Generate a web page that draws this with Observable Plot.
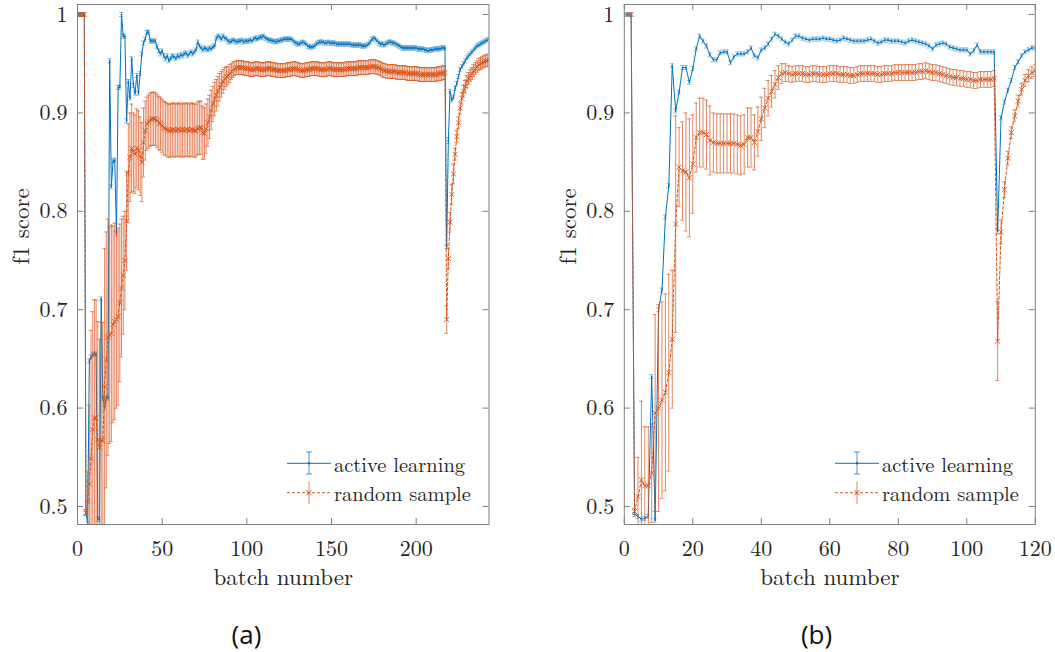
<!DOCTYPE html>
<html><head><meta charset="utf-8">
<script src="https://cdn.jsdelivr.net/npm/d3@7"></script>
<script src="https://cdn.jsdelivr.net/npm/@observablehq/plot@0.6"></script>
<style>
body{margin:0;background:#fff;}
#wrap{position:relative;width:1055px;height:652px;overflow:hidden;background:#fff;}
.panel{position:absolute;top:0;}
.cap{position:absolute;font-family:Open Sans;font-size:26px;color:#111;transform:translate(-50%,-50%);white-space:nowrap;}
.leg{position:absolute;}
</style></head><body><div id="wrap"></div>
<script>
// ---------- tick labels / names ----------
const yTicks = [0.5, 0.6, 0.7, 0.8, 0.9, 1];
const xTicksA = [0, 50, 100, 150, 200];
const xTicksB = [0, 20, 40, 60, 80, 100, 120];
const seriesNames = ["active learning", "random sample"];
const xLabel = "batch number", yLabel = "f1 score";
const panelNames = ["(a)", "(b)"];

// ---------- panel (a): 243 batches ----------
const aActive = [
1,1,1,1,.493,.483,.648,.652,.654,.655,
.655,.487,.487,.711,.610,.600,.611,.610,.953,.825,
.851,.852,.777,.926,.926,1,.978,.978,.892,.932,
.915,.955,.928,.920,.938,.920,.940,.960,.971,.975,
.982,.982,.973,.973,.973,.973,.967,.963,.960,.963,
.958,.955,.958,.953,.955,.958,.957,.955,.958,.957,
.959,.958,.960,.961,.958,.960,.962,.960,.962,.964,
.972,.968,.966,.964,.966,.965,.964,.966,.965,.967,
.968,.976,.978,.977,.975,.978,.976,.975,.973,.972,
.973,.974,.973,.972,.973,.973,.974,.972,.973,.973,
.973,.974,.973,.975,.976,.975,.976,.977,.977,.978,
.976,.975,.974,.974,.973,.973,.972,.973,.973,.974,
.974,.975,.975,.975,.975,.975,.974,.972,.971,.970,
.970,.971,.972,.971,.970,.968,.967,.967,.967,.968,
.970,.971,.972,.972,.972,.971,.971,.972,.971,.971,
.971,.971,.970,.970,.970,.970,.970,.970,.970,.970,
.970,.969,.969,.969,.969,.969,.969,.968,.968,.968,
.969,.970,.972,.975,.976,.975,.973,.971,.970,.970,
.969,.970,.971,.972,.972,.971,.971,.970,.969,.968,
.967,.966,.966,.966,.966,.966,.966,.966,.966,.966,
.965,.965,.965,.965,.964,.964,.963,.964,.964,.964,
.965,.965,.965,.965,.966,.966,.966,
.764,.872,.922,.913,.916,.925,.930,.937,.944,.947,
.950,.953,.956,.958,.960,.962,.964,.966,.968,.969,
.970,.971,.972,.973,.974,.975];
const aActiveErr = [
.002,.002,.002,.002,.002,.002,.002,.002,.002,.002,
.002,.002,.002,.002,.002,.002,.002,.002,.002,.002,
.002,.002,.002,.002,.002,.002,.002,.002,.002,.002,
.002,.002,.002,.002,.002,.002,.002,.002,.002,.002,
.002,.002,.002,.002,.002,.002,.002,.002,.002,.002,
.002,.002,.002,.002,.002,.002,.002,.002,.002,.002,
.002,.002,.002,.002,.002,.002,.002,.002,.002,.002,
.002,.002,.002,.002,.002,.002,.002,.002,.002,.002,
.002,.002,.002,.002,.002,.002,.002,.002,.002,.002,
.002,.002,.002,.002,.002,.002,.002,.002,.002,.002,
.002,.002,.002,.002,.002,.002,.002,.002,.002,.002,
.002,.002,.002,.002,.002,.002,.002,.002,.002,.002,
.002,.002,.002,.002,.002,.002,.002,.002,.002,.002,
.002,.002,.002,.002,.002,.002,.002,.002,.002,.002,
.002,.002,.002,.002,.002,.002,.002,.002,.002,.002,
.002,.002,.002,.002,.002,.002,.002,.002,.002,.002,
.002,.002,.002,.002,.002,.002,.002,.002,.002,.002,
.002,.002,.002,.002,.002,.002,.002,.002,.002,.002,
.002,.002,.002,.002,.002,.002,.002,.002,.002,.002,
.002,.002,.002,.002,.002,.002,.002,.002,.002,.002,
.002,.002,.002,.002,.002,.002,.002,.002,.002,.002,
.002,.002,.002,.002,.002,.002,.002,
.002,.003,.002,.002,.002,.002,.002,.002,.002,.002,
.002,.002,.002,.002,.002,.002,.002,.002,.002,.002,
.002,.002,.002,.002,.002,.002];
const aRandom = [
1,1,1,1,.494,.505,.523,.549,.578,.590,
.590,.568,.560,.567,.567,.622,.649,.672,.674,.676,
.685,.688,.690,.693,.707,.722,.735,.750,.790,.839,
.855,.864,.860,.858,.864,.862,.856,.850,.870,.882,
.889,.891,.893,.894,.894,.894,.892,.890,.889,.887,
.885,.884,.883,.882,.882,.883,.883,.882,.883,.883,
.882,.883,.882,.883,.883,.882,.883,.883,.882,.882,
.884,.885,.885,.880,.879,.884,.890,.896,.903,.909,
.914,.918,.922,.926,.929,.932,.935,.937,.938,.940,
.942,.944,.945,.946,.946,.946,.946,.946,.945,.945,
.945,.944,.944,.944,.945,.945,.945,.944,.944,.944,
.944,.945,.945,.945,.944,.944,.944,.943,.943,.943,
.943,.943,.943,.944,.944,.944,.945,.945,.945,.944,
.944,.943,.943,.943,.944,.944,.944,.945,.945,.945,
.945,.945,.944,.944,.944,.944,.944,.945,.945,.945,
.944,.944,.944,.944,.944,.944,.944,.944,.945,.945,
.945,.945,.945,.945,.945,.946,.946,.946,.946,.946,
.946,.946,.947,.947,.947,.947,.946,.946,.945,.944,
.943,.943,.942,.942,.942,.942,.942,.942,.941,.941,
.941,.941,.941,.941,.940,.940,.940,.940,.940,.940,
.940,.939,.939,.939,.939,.939,.939,.939,.939,.939,
.939,.939,.940,.940,.940,.941,.941,
.690,.752,.789,.817,.838,.858,.876,.890,.905,.915,
.922,.927,.932,.935,.938,.940,.943,.945,.947,.949,
.950,.951,.952,.953,.953,.954];
const aRandomErr = [
.001,.001,.001,.001,.003,.03,.08,.13,.12,.12,
.12,.12,.11,.12,.12,.14,.13,.12,.11,.11,
.10,.10,.09,.09,.08,.07,.06,.05,.05,.05,
.045,.045,.04,.04,.04,.04,.04,.04,.035,.03,
.027,.027,.027,.027,.027,.027,.027,.027,.027,.027,
.027,.027,.027,.027,.027,.027,.027,.027,.027,.027,
.027,.027,.027,.027,.027,.027,.027,.027,.027,.027,
.027,.027,.027,.027,.026,.025,.024,.022,.02,.018,
.017,.016,.015,.014,.013,.012,.011,.01,.009,.009,
.008,.008,.007,.007,.007,.007,.007,.007,.007,.007,
.007,.007,.007,.007,.007,.007,.007,.007,.007,.007,
.007,.007,.007,.007,.007,.007,.007,.007,.007,.007,
.007,.007,.007,.007,.007,.007,.007,.007,.007,.007,
.007,.007,.007,.007,.007,.007,.007,.007,.007,.007,
.007,.007,.007,.007,.007,.007,.007,.007,.007,.007,
.007,.007,.007,.007,.007,.007,.007,.007,.007,.007,
.007,.007,.007,.007,.007,.007,.007,.007,.007,.007,
.007,.007,.007,.007,.007,.007,.007,.007,.007,.007,
.007,.007,.007,.007,.007,.007,.007,.007,.007,.007,
.007,.007,.007,.007,.007,.007,.007,.007,.007,.007,
.007,.007,.007,.007,.007,.007,.007,.007,.007,.007,
.007,.007,.007,.007,.007,.007,.007,
.014,.01,.01,.01,.01,.006,.006,.006,.006,.006,
.006,.006,.006,.006,.006,.006,.006,.006,.006,.006,
.006,.006,.006,.006,.006,.006];

// ---------- panel (b): 120 batches ----------
const bActive = [
1,1,.492,.490,.487,.488,.490,.632,.486,.700,
.720,.794,.826,.948,.902,.921,.946,.946,.931,.945,
.965,.978,.973,.968,.959,.954,.954,.961,.962,.962,
.951,.957,.960,.960,.960,.962,.966,.958,.956,.964,
.966,.970,.975,.980,.978,.975,.972,.970,.974,.978,
.978,.976,.975,.974,.975,.975,.975,.976,.975,.975,
.974,.973,.974,.976,.975,.974,.973,.973,.973,.973,
.974,.975,.973,.971,.972,.974,.974,.973,.973,.973,
.972,.971,.973,.974,.973,.972,.971,.970,.968,.965,
.969,.970,.971,.970,.967,.966,.965,.964,.964,.964,
.960,.963,.969,.962,.962,.962,.962,.962,.780,.895,
.911,.923,.933,.946,.952,.958,.962,.964,.966,.966];
const bActiveErr = [
.002,.002,.002,.002,.002,.002,.002,.002,.002,.002,
.002,.002,.002,.002,.002,.002,.002,.002,.002,.002,
.002,.002,.002,.002,.002,.002,.002,.002,.002,.002,
.002,.002,.002,.002,.002,.002,.002,.002,.002,.002,
.002,.002,.002,.002,.002,.002,.002,.002,.002,.002,
.002,.002,.002,.002,.002,.002,.002,.002,.002,.002,
.002,.002,.002,.002,.002,.002,.002,.002,.002,.002,
.002,.002,.002,.002,.002,.002,.002,.002,.002,.002,
.002,.002,.002,.002,.002,.002,.002,.002,.002,.002,
.002,.002,.002,.002,.002,.002,.002,.002,.002,.002,
.002,.002,.002,.002,.002,.002,.002,.002,.003,.002,
.002,.002,.002,.002,.002,.002,.002,.002,.002,.002];
const bRandom = [
1,1,.495,.510,.527,.521,.521,.534,.595,.600,
.608,.616,.636,.670,.787,.845,.841,.840,.834,.848,
.875,.880,.880,.878,.872,.870,.869,.869,.869,.869,
.869,.869,.868,.867,.868,.875,.875,.870,.881,.894,
.905,.915,.922,.929,.936,.940,.941,.940,.939,.940,
.940,.940,.939,.939,.940,.940,.939,.939,.939,.940,
.940,.940,.939,.939,.939,.938,.938,.939,.940,.940,
.940,.940,.940,.939,.939,.940,.940,.940,.941,.941,
.941,.941,.941,.941,.941,.942,.942,.943,.942,.941,
.941,.940,.939,.938,.937,.936,.936,.935,.935,.934,
.934,.933,.933,.934,.934,.934,.934,.935,.668,.779,
.822,.854,.880,.897,.912,.924,.933,.938,.941,.943];
const bRandomErr = [
.001,.001,.003,.04,.08,.06,.06,.05,.10,.105,
.10,.10,.10,.07,.11,.04,.05,.06,.06,.05,
.035,.035,.035,.035,.035,.03,.03,.03,.03,.03,
.03,.03,.03,.03,.03,.03,.03,.028,.025,.022,
.02,.018,.016,.014,.012,.01,.009,.008,.008,.008,
.008,.008,.008,.008,.008,.008,.008,.008,.008,.008,
.008,.008,.008,.008,.008,.008,.008,.008,.008,.008,
.008,.008,.008,.008,.008,.008,.008,.008,.008,.008,
.008,.008,.008,.008,.008,.008,.008,.008,.008,.008,
.008,.008,.008,.008,.008,.008,.008,.008,.008,.008,
.008,.008,.008,.008,.008,.008,.008,.008,.04,.012,
.008,.007,.006,.006,.006,.006,.006,.006,.006,.006];

// ---------- styling ----------
const BLUE = "#0072BD", ORANGE = "#D95319", FRAME = "#7f7f7f", INK = "#262626";
const FONT = "Latin Modern Roman";

function check(name, arr, n) { if (arr.length !== n) throw new Error(name + " length " + arr.length + " != " + n); }
[["aActive",aActive],["aActiveErr",aActiveErr],["aRandom",aRandom],["aRandomErr",aRandomErr]].forEach(([k,a]) => check(k,a,243));
[["bActive",bActive],["bActiveErr",bActiveErr],["bRandom",bRandom],["bRandomErr",bRandomErr]].forEach(([k,a]) => check(k,a,120));

function panel({w, ml, mr, xmax, xticks, am, ae, rm, re}) {
  const H = 600, mt = 4, mb = 76;
  const fw = w - ml - mr, fh = H - mt - mb;
  const rows = d3.range(am.length).map(i => ({x: i + 1, am: am[i], ae: ae[i], rm: rm[i], re: re[i]}));
  const tl = 6;
  return Plot.plot({
    width: w, height: H, marginLeft: ml, marginRight: mr, marginTop: mt, marginBottom: mb,
    style: {fontFamily: FONT, fontSize: "22px", color: INK, background: "transparent", overflow: "visible"},
    x: {domain: [0, xmax]},
    y: {domain: [0.4817, 1.0102]},
    marks: [
      // active learning
      Plot.ruleX(rows, {x: "x", y1: d => d.am - d.ae, y2: d => d.am + d.ae, stroke: BLUE, strokeOpacity: 0.5, clip: true}),
      Plot.ruleY(rows, {y: d => d.am + d.ae, x1: "x", x2: "x", insetLeft: -2, insetRight: -2, stroke: BLUE, strokeOpacity: 0.45, clip: true}),
      Plot.ruleY(rows, {y: d => d.am - d.ae, x1: "x", x2: "x", insetLeft: -2, insetRight: -2, stroke: BLUE, strokeOpacity: 0.45, clip: true}),
      Plot.line(rows, {x: "x", y: "am", stroke: BLUE, strokeWidth: 1, clip: true}),
      Plot.dot(rows, {x: "x", y: "am", r: 0.9, fill: BLUE, stroke: null, clip: true}),
      // random sample
      Plot.ruleX(rows, {x: "x", y1: d => d.rm - d.re, y2: d => d.rm + d.re, stroke: ORANGE, strokeOpacity: 0.7, clip: true}),
      Plot.ruleY(rows, {y: d => d.rm + d.re, x1: "x", x2: "x", insetLeft: -2, insetRight: -2, stroke: ORANGE, strokeOpacity: 0.65, clip: true}),
      Plot.ruleY(rows, {y: d => d.rm - d.re, x1: "x", x2: "x", insetLeft: -2, insetRight: -2, stroke: ORANGE, strokeOpacity: 0.65, clip: true}),
      Plot.line(rows, {x: "x", y: "rm", stroke: ORANGE, strokeWidth: 1, strokeDasharray: "3,2", clip: true}),
      Plot.dot(rows, {x: "x", y: "rm", r: 2.4, symbol: "times", stroke: ORANGE, strokeWidth: 0.9, clip: true}),
      // box and inward ticks
      Plot.frame({stroke: FRAME}),
      Plot.tickY(yTicks, {y: d => d, stroke: FRAME, insetRight: fw - tl}),
      Plot.tickY(yTicks, {y: d => d, stroke: FRAME, insetLeft: fw - tl}),
      Plot.tickX(xticks, {x: d => d, stroke: FRAME, insetTop: fh - tl}),
      Plot.tickX(xticks, {x: d => d, stroke: FRAME, insetBottom: fh - tl}),
      Plot.axisX({ticks: xticks, tickSize: 0, tickPadding: 16, label: null, fontFamily: FONT}),
      Plot.axisY({ticks: yTicks, tickSize: 0, tickPadding: 10, label: null, fontFamily: FONT, tickFormat: d => d === 1 ? "1" : d.toFixed(1)}),
      Plot.text([xLabel], {frameAnchor: "bottom", dy: 60, fontSize: 23, fontFamily: FONT, fill: INK}),
      Plot.text([yLabel], {frameAnchor: "left", dx: -56, rotate: -90, fontSize: 23, fontFamily: FONT, fill: INK})
    ]
  });
}

function legendSvg() {
  const s = d3.create("svg").attr("width", 200).attr("height", 66)
    .attr("style", "overflow:visible");
  const yb = 18.3, yo = 47.7, cx = 29;
  s.append("line").attr("x1", 7).attr("x2", 51).attr("y1", yb).attr("y2", yb).attr("stroke", BLUE).attr("stroke-width", 1);
  s.append("line").attr("x1", cx).attr("x2", cx).attr("y1", 7).attr("y2", 29).attr("stroke", BLUE).attr("stroke-opacity", 0.7);
  s.append("line").attr("x1", cx - 3).attr("x2", cx + 3).attr("y1", 7).attr("y2", 7).attr("stroke", BLUE).attr("stroke-opacity", 0.7);
  s.append("line").attr("x1", cx - 3).attr("x2", cx + 3).attr("y1", 29).attr("y2", 29).attr("stroke", BLUE).attr("stroke-opacity", 0.7);
  s.append("circle").attr("cx", cx).attr("cy", yb).attr("r", 1.2).attr("fill", BLUE);
  s.append("line").attr("x1", 7).attr("x2", 51).attr("y1", yo).attr("y2", yo).attr("stroke", ORANGE).attr("stroke-width", 1).attr("stroke-dasharray", "3,2");
  s.append("line").attr("x1", cx).attr("x2", cx).attr("y1", 36.5).attr("y2", 59).attr("stroke", ORANGE).attr("stroke-opacity", 0.7);
  s.append("path").attr("d", `M${cx-2.4},${yo-2.4}L${cx+2.4},${yo+2.4}M${cx-2.4},${yo+2.4}L${cx+2.4},${yo-2.4}`).attr("stroke", ORANGE).attr("fill", "none");
  const t = s.append("g").attr("font-family", FONT).attr("font-size", 20.5).attr("fill", INK);
  t.append("text").attr("x", 54).attr("y", 26.5).text(seriesNames[0]);
  t.append("text").attr("x", 54).attr("y", 55.5).text(seriesNames[1]);
  return s.node();
}

const wrap = document.getElementById("wrap");
function place(node, left, top, cls) {
  const d = document.createElement("div"); d.className = cls; d.style.left = left + "px"; d.style.top = top + "px";
  d.appendChild(node); wrap.appendChild(d); return d;
}
place(panel({w: 527, ml: 77, mr: 38.5, xmax: 243, xticks: xTicksA, am: aActive, ae: aActiveErr, rm: aRandom, re: aRandomErr}), 0, 0, "panel");
place(panel({w: 528, ml: 96.8, mr: 20.2, xmax: 120, xticks: xTicksB, am: bActive, ae: bActiveErr, rm: bRandom, re: bRandomErr}), 527, 0, "panel");
place(legendSvg(), 280, 445, "leg");
place(legendSvg(), 828, 445, "leg");
[[panelNames[0], 246.5], [panelNames[1], 816.5]].forEach(([t, x]) => {
  const d = document.createElement("div"); d.className = "cap"; d.textContent = t;
  d.style.left = x + "px"; d.style.top = "634px"; wrap.appendChild(d);
});
</script></body></html>
